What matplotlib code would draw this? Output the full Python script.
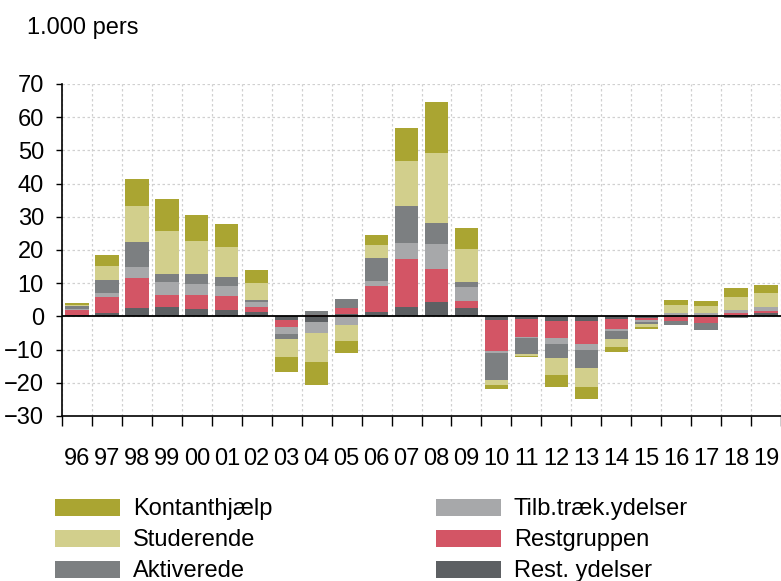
import matplotlib
matplotlib.use("Agg")
import matplotlib.pyplot as plt
import numpy as np
from matplotlib.patches import Rectangle

plt.rcParams['font.family'] = ['Liberation Sans', 'DejaVu Sans']

years = ['96', '97', '98', '99', '00', '01', '02', '03', '04', '05', '06', '07',
         '08', '09', '10', '11', '12', '13', '14', '15', '16', '17', '18', '19']

# series, bottom of the stack first
rest_ydelser = [0.5, 1.15, 2.5, 2.7, 2.3, 2.0, 1.3, -1.05, -1.6, 0.8, 1.3, 2.9,
                4.2, 2.6, -1.0, -0.8, -1.3, -1.5, -0.9, -0.4, -0.3, -0.3, 0.5, 1.0]
restgruppen = [1.3, 4.65, 9.1, 3.7, 4.2, 4.2, 1.4, -2.25, 0.3, 1.7, 8.0, 14.4,
               10.0, 2.1, -9.4, -5.5, -5.3, -6.7, -2.8, -0.6, -1.0, -1.7, 0.4, 0.5]
tilb_traek = [0.3, 1.3, 3.3, 4.0, 3.3, 3.0, 1.7, -2.0, -3.3, -2.7, 1.4, 4.8,
              7.6, 4.2, -0.6, -0.2, -1.8, -1.9, -0.7, -0.6, 0.9, 0.9, 1.1, 1.4]
aktiverede = [0.9, 3.9, 7.6, 2.4, 2.9, 2.8, 0.6, -1.5, 1.3, 2.6, 6.8, 11.2,
              6.3, 1.4, -8.1, -4.9, -4.0, -5.4, -2.3, -0.6, -1.2, -2.2, -0.6, 0.0]
studerende = [0.5, 4.3, 10.9, 13.0, 10.0, 8.8, 5.0, -5.5, -8.9, -4.7, 4.0, 13.5,
              21.2, 10.0, -1.7, -0.6, -5.4, -5.9, -2.6, -1.1, 2.5, 2.2, 3.9, 4.0]
kontanthjaelp = [0.5, 3.2, 8.0, 9.6, 7.9, 7.1, 4.0, -4.3, -6.9, -3.5, 3.0, 10.0,
                 15.3, 6.3, -1.2, -0.2, -3.4, -3.6, -1.4, -0.6, 1.5, 1.5, 2.6, 2.6]

series = [
    ('Rest. ydelser', rest_ydelser, '#5d6063'),
    ('Restgruppen', restgruppen, '#d35565'),
    ('Tilb.træk.ydelser', tilb_traek, '#a7a8aa'),
    ('Aktiverede', aktiverede, '#7c7f81'),
    ('Studerende', studerende, '#d2cf8c'),
    ('Kontanthjælp', kontanthjaelp, '#aaa532'),
]

FS = 17

fig = plt.figure(figsize=(7.81, 5.81), dpi=100)
ax = fig.add_axes([62 / 781, 1 - 416 / 581, 1 - 62 / 781, (416 - 84) / 581])

x = np.arange(len(years))
pos_bottom = np.zeros(len(years))
neg_bottom = np.zeros(len(years))
for name, vals, col in series:
    v = np.array(vals)
    bottom = np.where(v >= 0, pos_bottom, neg_bottom)
    ax.bar(x, v, 0.78, bottom=bottom, color=col, linewidth=0, zorder=3)
    pos_bottom += np.where(v >= 0, v, 0)
    neg_bottom += np.where(v < 0, v, 0)

ax.axhline(0, color='black', lw=1.3, zorder=4)
ax.set_xlim(-0.5, len(years) - 0.5)
ax.set_ylim(-30, 70)
ax.set_yticks(range(-30, 71, 10))
ax.set_xticks(x)
ax.set_xticklabels(years)
ax.set_xticks(np.arange(-0.5, len(years), 1), minor=True)
ax.tick_params(axis='x', which='major', length=0, pad=23, labelsize=FS)
ax.tick_params(axis='x', which='minor', length=7, width=1, direction='out')
ax.tick_params(axis='y', length=4, width=1, pad=9, labelsize=FS)

ax.grid(True, axis='y', color='#d0d0d0', ls=(0, (2, 2)), lw=0.9, zorder=0)
ax.grid(True, axis='x', which='minor', color='#d0d0d0', ls=(0, (2, 2)), lw=0.9, zorder=0)
for s in ['top', 'right']:
    ax.spines[s].set_visible(False)
ax.spines['left'].set_linewidth(1.2)
ax.spines['bottom'].set_linewidth(1.2)

fig.text(27 / 781, 1 - 28 / 581, '1.000 pers', fontsize=FS, va='center', ha='left')

# legend drawn by hand: two columns, three rows
legend_cols = [[series[5], series[4], series[3]], [series[2], series[1], series[0]]]
col_x = [55, 436]
row_y = [507, 538, 569]
for cx, entries in zip(col_x, legend_cols):
    for ry, (name, vals, col) in zip(row_y, entries):
        fig.add_artist(Rectangle((cx / 781, 1 - (ry + 8.5) / 581), 65 / 781, 17 / 581,
                                 transform=fig.transFigure, color=col, lw=0))
        fig.text((cx + 78) / 781, 1 - (ry + 2) / 581, name, fontsize=FS,
                 va='center', ha='left')

fig.savefig('out.png', dpi=100)
